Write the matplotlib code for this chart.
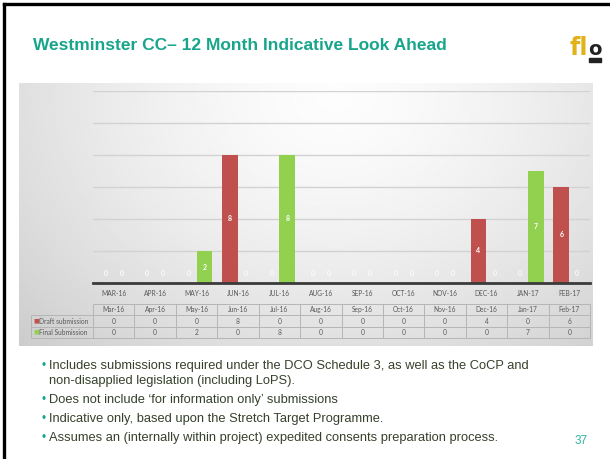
import numpy as np
import matplotlib
matplotlib.use("Agg")
import matplotlib.pyplot as plt
from matplotlib.lines import Line2D
from matplotlib.patches import Rectangle

# ---------------- data ----------------
months = ["Mar-16", "Apr-16", "May-16", "Jun-16", "Jul-16", "Aug-16",
          "Sep-16", "Oct-16", "Nov-16", "Dec-16", "Jan-17", "Feb-17"]
draft = [0, 0, 0, 8, 0, 0, 0, 0, 0, 4, 0, 6]
final = [0, 0, 2, 0, 8, 0, 0, 0, 0, 0, 7, 0]
series_names = ["Draft submission", "Final Submission"]
title = "Westminster CC\u2013 12 Month Indicative Look Ahead"
bullets = [
    ["Includes submissions required under the DCO Schedule 3, as well as the CoCP and",
     "non-disapplied legislation (including LoPS)."],
    ["Does not include \u2018for information only\u2019 submissions"],
    ["Indicative only, based upon the Stretch Target Programme."],
    ["Assumes an (internally within project) expedited consents preparation process."],
]
page_no = "37"

# ---------------- styling ----------------
W, H = 610, 459
RED = "#C0504D"
GREEN = "#92D050"
TEAL = "#17A58B"
TXT = "#36412c"
GRAYTXT = "#595959"

fig = plt.figure(figsize=(W / 100, H / 100), dpi=100)
fig.patch.set_facecolor("white")


def fx(px):
    return px / W


def fy(py):
    return 1 - py / H


# slide border (top and left)
fig.add_artist(Line2D([fx(4), fx(4)], [fy(4), fy(459)], color="black", lw=2.4,
                      transform=fig.transFigure))
fig.add_artist(Line2D([fx(4), fx(610)], [fy(4), fy(4)], color="black", lw=2.4,
                      transform=fig.transFigure))

# title
fig.text(fx(33), fy(46), title, color=TEAL, fontsize=12.5, fontweight="bold",
         family="Liberation Sans", va="center", ha="left")

# logo (approximation)
fig.text(fx(570), fy(55), "fl", color="#E2B21A", fontsize=17, fontweight="bold",
         family="DejaVu Sans", va="baseline", ha="left")
fig.text(fx(588), fy(55), "o", color="#222222", fontsize=14, fontweight="bold",
         family="DejaVu Sans", va="baseline", ha="left")
fig.add_artist(Rectangle((fx(589), fy(62)), fx(12), 4 / H, color="#222222",
                         transform=fig.transFigure))

# gradient panel
px0, px1, py0, py1 = 19, 593, 83, 346
bg = fig.add_axes([fx(px0), fy(py1), fx(px1 - px0), (py1 - py0) / H])
gx = np.linspace(0, 1, 300)
gy = np.linspace(0, 1, 200)
GX, GY = np.meshgrid(gx, gy)
r = np.sqrt(((GX - 0.55) / 0.8) ** 2 + ((GY - 0.05) / 1.4) ** 2)
val = np.clip(0.99 - 0.20 * r ** 1.5, 0.79, 0.99)
bg.imshow(val, cmap="gray", vmin=0, vmax=1, aspect="auto",
          extent=[0, 1, 1, 0], interpolation="bilinear")
bg.set_xlim(0, 1)
bg.set_ylim(1, 0)
bg.axis("off")

# main chart axes
L, R, B, T = 93, 590, 283, 91
ax = fig.add_axes([fx(L), fy(B), fx(R - L), (B - T) / H])
ax.patch.set_alpha(0)
x = np.arange(len(months))
bw = 0.385
b1 = ax.bar(x - bw / 2, draft, bw, color=RED, edgecolor="none", zorder=3)
b2 = ax.bar(x + bw / 2, final, bw, color=GREEN, edgecolor="none", zorder=3)
ax.set_xlim(-0.5, len(months) - 0.5)
ax.set_ylim(0, 12)
ax.set_yticks(np.arange(2, 13, 2))
ax.yaxis.grid(True, color="#d2d2d2", lw=1.0, zorder=0)
ax.tick_params(axis="y", left=False, labelleft=False)
for s in ["top", "right", "left"]:
    ax.spines[s].set_visible(False)
ax.spines["bottom"].set_color("#3a3a3a")
ax.spines["bottom"].set_linewidth(2.0)
ax.spines["bottom"].set_zorder(4)
ax.set_xticks(x)
ax.set_xticklabels([m.upper() for m in months], fontsize=4.8, color=GRAYTXT,
                   family="Lato")
ax.tick_params(axis="x", length=0, pad=5)

for bars, vals in ((b1, draft), (b2, final)):
    for rect, v in zip(bars, vals):
        cx = rect.get_x() + rect.get_width() / 2
        if v > 0:
            ax.text(cx, v / 2, str(v), ha="center", va="center", color="white",
                    fontsize=5, fontweight="bold", family="Lato", zorder=5)
        else:
            ax.annotate(str(v), (cx, 0), xytext=(0, 6.5), textcoords="offset points",
                        ha="center", va="center", color="#fbfbfb", fontsize=5,
                        fontweight="bold", family="Lato", zorder=5)

# data table
TT, TB = 304, 338
tax = fig.add_axes([fx(L), fy(TB), fx(R - L), (TB - TT) / H])
tax.patch.set_alpha(0)
tax.set_xlim(-0.5, len(months) - 0.5)
tax.set_ylim(3, 0)
tax.axis("off")
lc = "#b5b5b5"
leg_left = -0.5 - (L - 31) / ((R - L) / len(months))
tax.hlines([0], -0.5, len(months) - 0.5, color=lc, lw=0.7, clip_on=False)
tax.hlines([1, 2, 3], leg_left, len(months) - 0.5, color=lc, lw=0.7, clip_on=False)
tax.vlines(np.arange(len(months) + 1) - 0.5, 0, 3, color=lc, lw=0.7, clip_on=False)
tax.vlines([leg_left], 1, 3, color=lc, lw=0.7, clip_on=False)
for i, m in enumerate(months):
    tax.text(i, 0.5, m, ha="center", va="center", fontsize=4.8, color=GRAYTXT,
             family="Lato")
    tax.text(i, 1.5, str(draft[i]), ha="center", va="center", fontsize=4.8,
             color=GRAYTXT, family="Lato")
    tax.text(i, 2.5, str(final[i]), ha="center", va="center", fontsize=4.8,
             color=GRAYTXT, family="Lato")
for row, (name, col) in enumerate(zip(series_names, [RED, GREEN]), start=1):
    tax.text(leg_left + 0.06, row + 0.5, "\u25a0", ha="left", va="center",
             fontsize=4.5, color=col, family="DejaVu Sans", clip_on=False)
    tax.text(leg_left + 0.2, row + 0.5, name, ha="left", va="center",
             fontsize=4.8, color=GRAYTXT, family="Lato", clip_on=False)

# bullets
ys = [366, 400, 419, 438]
for y0, lines in zip(ys, bullets):
    fig.text(fx(41), fy(y0), "\u2022", color=TEAL, fontsize=8.5,
             family="Liberation Sans", va="center", ha="left")
    for k, line in enumerate(lines):
        fig.text(fx(49), fy(y0 + 15 * k), line, color=TXT, fontsize=9.3,
                 family="Liberation Sans", va="center", ha="left")

fig.text(fx(588), fy(441), page_no, color="#2DB5A0", fontsize=8.5,
         family="Liberation Sans", va="center", ha="right")

fig.savefig("out.png", dpi=100)
